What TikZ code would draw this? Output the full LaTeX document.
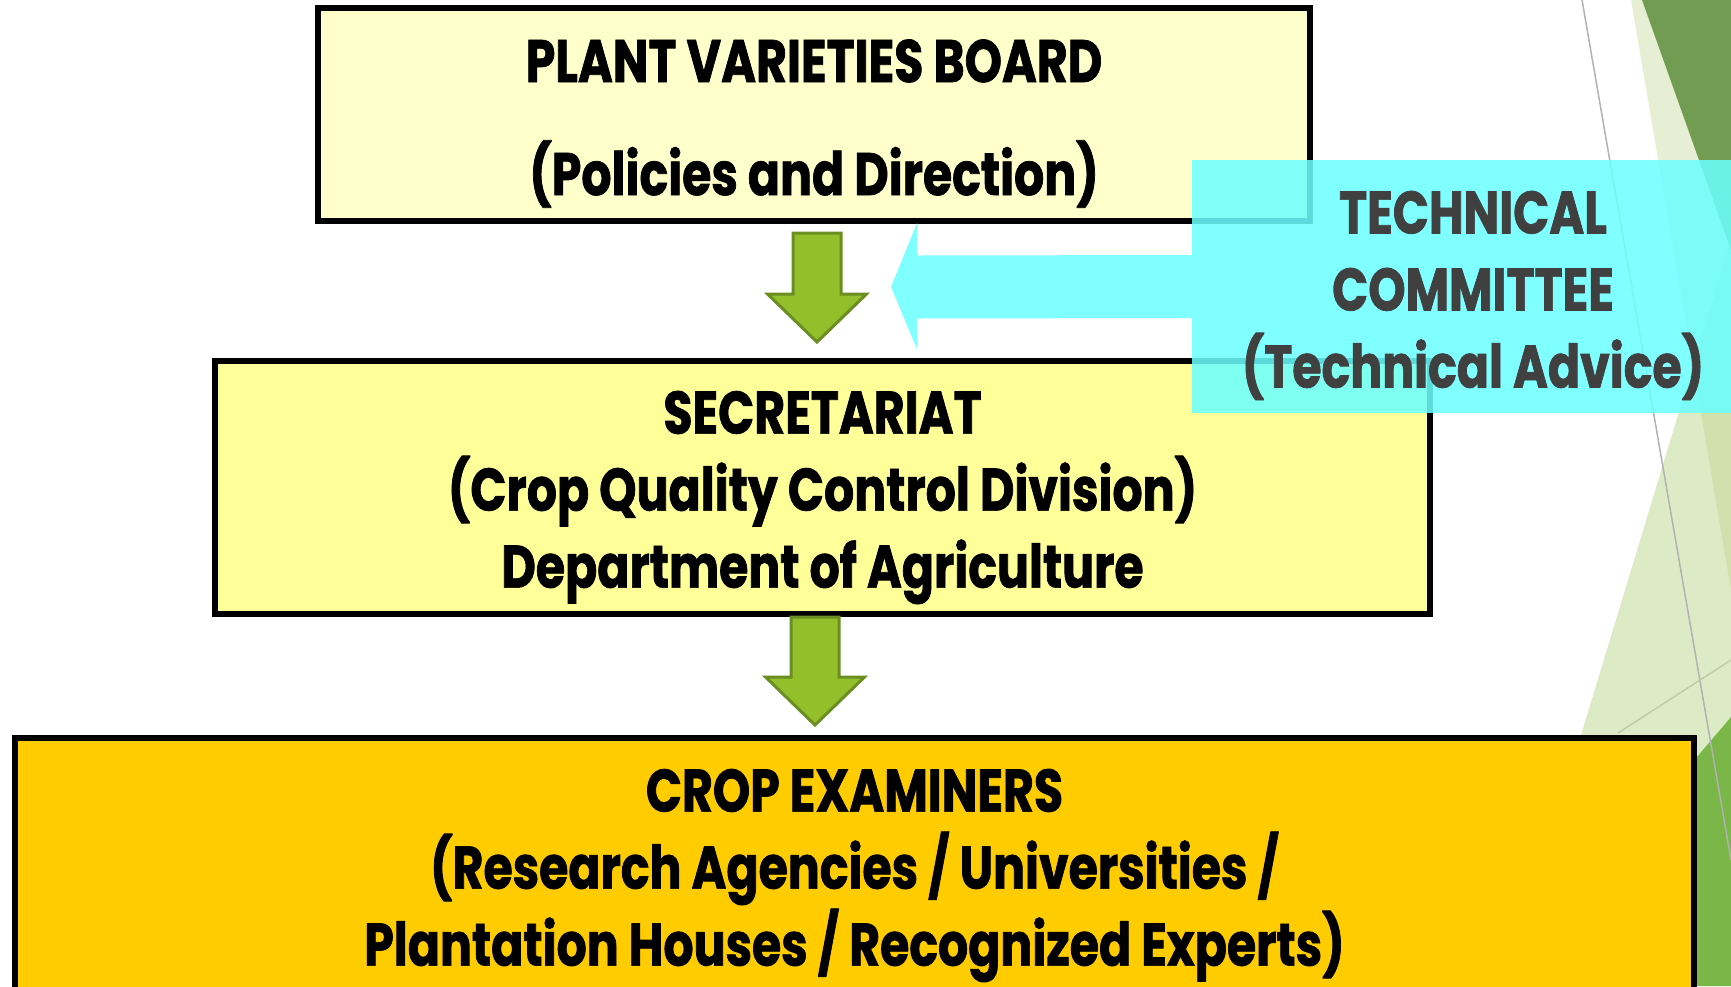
\documentclass[tikz,border=0pt]{standalone}
\usepackage{fontspec}
\newfontfamily\tf{Poppins}[FakeStretch=0.79,FakeBold=1.2]
\usetikzlibrary{calc}
\definecolor{boardfill}{HTML}{FFFFCC}
\definecolor{secfill}{HTML}{FFFF99}
\definecolor{cropfill}{HTML}{FFCC00}
\definecolor{tcfill}{RGB}{106,255,255}
\definecolor{tctext}{HTML}{404040}
\definecolor{arrfill}{HTML}{93C02A}
\definecolor{arrdraw}{HTML}{6B8E23}
\definecolor{gdark}{HTML}{729C51}
\definecolor{gmid}{HTML}{7AB648}
\definecolor{glight}{HTML}{C8DCA0}
\definecolor{gpale}{HTML}{B4D080}
\tikzset{
  orgbox/.style={draw=black, line width=6pt, rectangle, inner sep=0pt},
  orgtext/.style={inner sep=0pt, align=center, font=\tf\bfseries\fontsize{60}{77}\selectfont},
  tcbox/.style={fill=tcfill, fill opacity=0.86, inner sep=0pt},
  tctxt/.style={orgtext, text=tctext},
  downarrow/.style={fill=arrfill, draw=arrdraw, line width=3pt, line join=miter},
  thinline/.style={line width=1.5pt}
}
\newcommand\downarr[2]{%
  \path[downarrow] ($(#1)+(-24,0)$) -- ($(#1)+(24,0)$) -- ($(#2)+(24,-48)$) -- ($(#2)+(49.5,-48)$)
    -- (#2) -- ($(#2)+(-49.5,-48)$) -- ($(#2)+(-24,-48)$) -- cycle;}
\begin{document}
\begin{tikzpicture}[x=1pt,y=-1pt]
\useasboundingbox (0,0) rectangle (1731,986);
% right-hand decoration
\fill[glight, fill opacity=0.45] (1631,0) -- (1731,0) -- (1731,590) -- cycle;
\fill[gpale, fill opacity=0.45] (1731,240) -- (1505,986) -- (1731,986) -- cycle;
\fill[gdark] (1642,0) -- (1731,0) -- (1731,250) -- cycle;
\fill[gmid] (1731,717) -- (1502,986) -- (1731,986) -- cycle;
\draw[thinline, gray!60] (1582,0) -- (1731,860);
\draw[thinline, color={rgb,255:red,190;green,205;blue,165}] (1618,733) -- (1731,660);
% boxes
\node[orgbox, fill=boardfill, minimum width=992pt, minimum height=213pt] (board) at (814,114.5) {};
\node[orgtext] (boardtxt) at ($(board.center)+(0,9)$)
  {PLANT VARIETIES BOARD\\[36pt](Policies and Direction)};
\node[orgbox, fill=secfill, minimum width=1215pt, minimum height=253pt] (sec) at (822.5,487.5) {};
\node[orgtext] (sectxt) at ($(sec.center)+(0,10)$)
  {SECRETARIAT\\(Crop Quality Control Division)\\Department of Agriculture};
\node[orgbox, fill=cropfill, minimum width=1679pt, minimum height=257pt] (crop) at (854.5,866.5) {};
\node[orgtext] (croptxt) at ($(crop.center)+(0,9)$)
  {CROP EXAMINERS\\(Research Agencies / Universities /\\Plantation Houses / Recognized Experts)};
% green arrows
\coordinate (a1top) at (817,233);
\coordinate (a1tip) at (817,342);
\coordinate (a2top) at (815,617);
\coordinate (a2tip) at (815,725);
\downarr{a1top}{a1tip}
\downarr{a2top}{a2tip}
% technical committee
\node[tcbox, minimum width=562pt, minimum height=253pt] (tc) at (1473,286.5) {};
\node[tctxt] (tctext) at ($(tc.center)+(0,9)$) {TECHNICAL\\COMMITTEE\\(Technical Advice)};
\coordinate (tip) at (891,287);
\fill[tcfill, fill opacity=0.86] ($(tc.west)+(0,-31.5)$) -- ($(tip)+(26,-31.5)$) -- ($(tip)+(26,-64)$)
  -- (tip) -- ($(tip)+(26,62)$) -- ($(tip)+(26,31.5)$) -- ($(tc.west)+(0,31.5)$) -- cycle;
\end{tikzpicture}
\end{document}
